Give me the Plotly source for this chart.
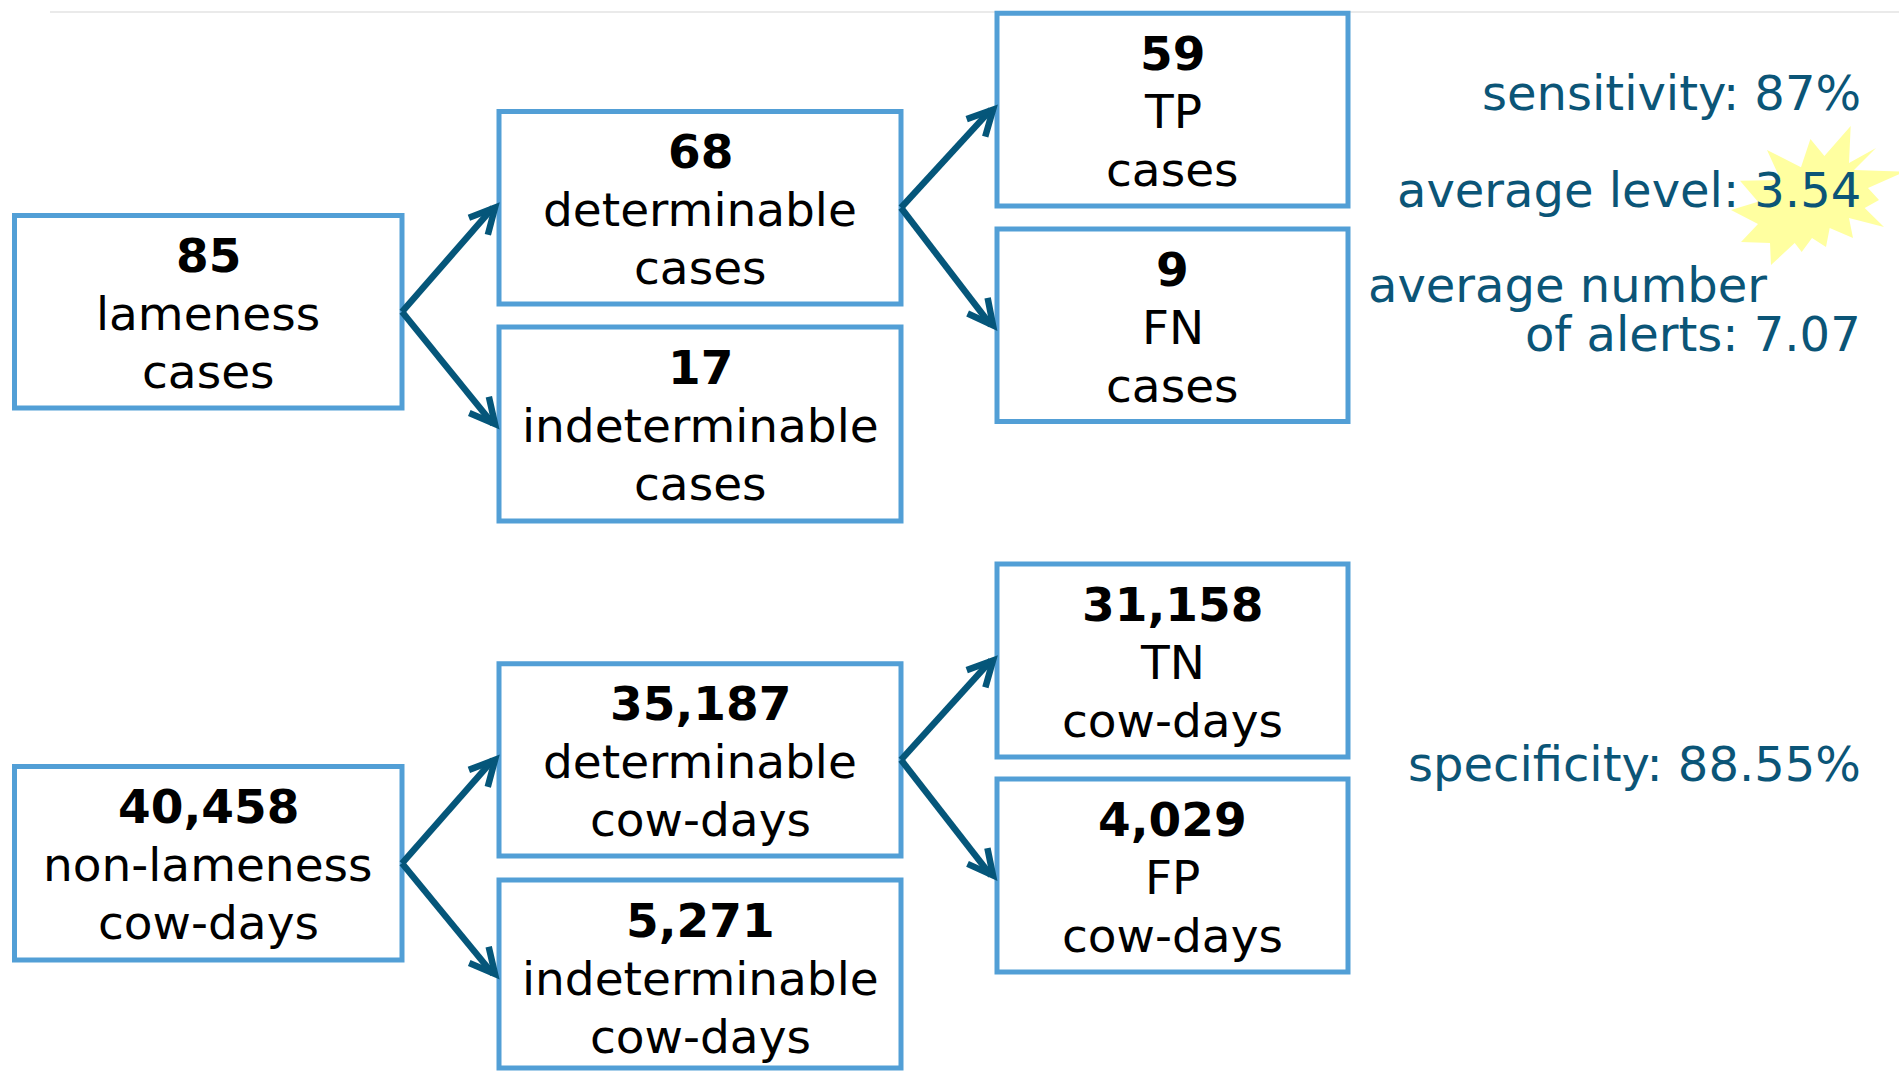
import math
import plotly.graph_objects as go

# ---------------- data ----------------
node_counts = [85, 68, 17, 59, 9, 40458, 35187, 5271, 31158, 4029]
node_kind = ["lameness", "determinable", "indeterminable", "TP", "FN",
             "non-lameness", "determinable", "indeterminable", "TN", "FP"]
node_unit = ["cases", "cases", "cases", "cases", "cases",
             "cow-days", "cow-days", "cow-days", "cow-days", "cow-days"]
edges = [(0, 1), (0, 2), (1, 3), (1, 4), (5, 6), (5, 7), (6, 8), (6, 9)]

metric_names = ["sensitivity", "average level", "of alerts", "specificity"]
metric_values = ["87%", "3.54", "7.07", "88.55%"]

# ---------------- layout (pixels) ----------------
W, H = 1899, 1071
col_x = [(14.5, 402), (499, 901), (997, 1348)]
box_col = [0, 1, 1, 2, 2, 0, 1, 1, 2, 2]
box_y = [(215.6, 408), (111.4, 304), (327, 521), (13.3, 206), (229, 421.5),
         (766.6, 960), (663.7, 856), (880, 1068), (564, 757), (779, 972)]

BOX_COLOR = "#529FD6"
ARROW_COLOR = "#05567A"
METRIC_COLOR = "#0B5577"
FONT = "DejaVu Sans, Verdana, sans-serif"
FS_BOX = 47
FS_METRIC = 48

fig = go.Figure()
shapes = []
annotations = []

# faint top rule
shapes.append(dict(type="line", xref="x", yref="y", x0=50, x1=W, y0=12, y1=12,
                   line=dict(color="#EAEAEA", width=2), layer="below"))

# starburst behind "3.54"
star = [(1850.7, 126), (1824.4, 156), (1810.4, 139), (1801, 167.3), (1767, 150),
        (1780.7, 180), (1740, 180.7), (1758, 201.7), (1731, 210), (1758, 224),
        (1741, 242), (1770, 243), (1771, 265), (1794.7, 243), (1801.7, 252),
        (1812, 238), (1826, 247), (1829.7, 228), (1853, 238), (1849, 218),
        (1884, 227), (1864.7, 208), (1879, 200), (1868, 188), (1905, 171.7),
        (1854, 170), (1876, 148), (1849, 163)]
path = "M " + " L ".join(f"{x},{y}" for x, y in star) + " Z"
shapes.append(dict(type="path", xref="x", yref="y", path=path,
                   fillcolor="#FFFFA0", line=dict(width=0), layer="below"))

# boxes and their text
for i, cnt in enumerate(node_counts):
    x0, x1 = col_x[box_col[i]]
    y0, y1 = box_y[i]
    shapes.append(dict(type="rect", xref="x", yref="y", x0=x0, x1=x1, y0=y0, y1=y1,
                       line=dict(color=BOX_COLOR, width=5), fillcolor="white",
                       layer="below"))
    cx = (x0 + x1) / 2
    lines = [f"<b>{cnt:,}</b>", node_kind[i], node_unit[i]]
    for k, t in enumerate(lines):
        annotations.append(dict(x=cx, y=y0 + 40 + 58 * k, xref="x", yref="y",
                                text=t, showarrow=False, xanchor="center",
                                yanchor="middle",
                                font=dict(family=FONT, size=FS_BOX, color="black")))

# arrows
ARM = 28
ANG = math.radians(27)
LW = 6.5
for s, t in edges:
    sx = col_x[box_col[s]][1]
    sy = sum(box_y[s]) / 2
    tx = col_x[box_col[t]][0] - 4
    ty = sum(box_y[t]) / 2
    shapes.append(dict(type="line", xref="x", yref="y", x0=sx, y0=sy, x1=tx - 2, y1=ty,
                       line=dict(color=ARROW_COLOR, width=LW)))
    bx, by = sx - tx, sy - ty
    L = math.hypot(bx, by)
    ux, uy = bx / L, by / L
    pts = []
    for sgn in (1, -1):
        c, sn = math.cos(sgn * ANG), math.sin(sgn * ANG)
        rx, ry = ux * c - uy * sn, ux * sn + uy * c
        pts.append((tx + ARM * rx, ty + ARM * ry))
    p = f"M {pts[0][0]},{pts[0][1]} L {tx},{ty} L {pts[1][0]},{pts[1][1]}"
    shapes.append(dict(type="path", xref="x", yref="y", path=p,
                       line=dict(color=ARROW_COLOR, width=LW)))

# metrics
def metric(x, y, text, anchor="right"):
    annotations.append(dict(x=x, y=y, xref="x", yref="y", text=text, showarrow=False,
                            xanchor=anchor, yanchor="middle",
                            font=dict(family=FONT, size=FS_METRIC, color=METRIC_COLOR)))

metric(1863, 93, f"{metric_names[0]}: {metric_values[0]}")
metric(1863, 190, f"{metric_names[1]}: {metric_values[1]}")
metric(1366, 285, "average number", anchor="left")
metric(1863, 334, f"{metric_names[2]}: {metric_values[2]}")
metric(1863, 764, f"{metric_names[3]}: {metric_values[3]}")

fig.update_layout(
    width=W, height=H, margin=dict(l=0, r=0, t=0, b=0),
    paper_bgcolor="white", plot_bgcolor="white",
    xaxis=dict(range=[0, W], visible=False, fixedrange=True),
    yaxis=dict(range=[H, 0], visible=False, fixedrange=True),
    shapes=shapes, annotations=annotations, showlegend=False,
)

fig.write_html("out.html", config={"displayModeBar": False},
               post_script="document.body.style.margin='0';document.body.style.overflow='hidden';")
